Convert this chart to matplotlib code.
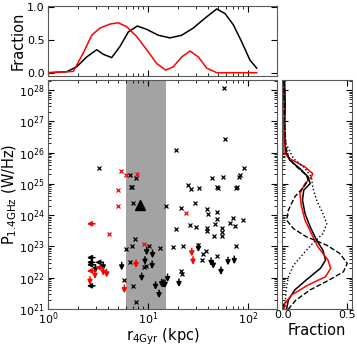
import numpy as np
import matplotlib
matplotlib.use('Agg')
import matplotlib.pyplot as plt

# --- data ---
# detections (x markers)
black_r = [3.26, 6.61, 7.53, 6.76, 6.9, 7.13, 15.0, 18.9, 57.5, 58.5, 91.8, 80.4, 83.2, 55.6, 43.7,
           24.9, 27.1, 32.5, 50.1, 49.5, 77.3, 76.0, 29.5, 21.4, 38.6, 49.3, 39.4, 48.6, 71.3, 89.7,
           66.8, 74.6, 46.8, 26.3, 30.3, 19.2, 38.6, 39.2, 54.6, 54.6, 45.7, 54.6, 22.2, 31.9, 38.0,
           35.1, 35.0, 49.5, 75.9, 21.5, 21.9, 7.41, 6.87, 5.98, 10.3, 13.2, 17.9, 6.61, 9.55, 9.18,
           5.8, 7.13, 7.53]
black_p = [3.3e25, 1.9e25, 1.5e25, 8.1e24, 8.0e24, 2.4e24, 2.0e24, 1.2e26, 1.2e28, 2.8e26, 3.3e25, 1.7e25,
           1.9e25, 1.7e25, 1.6e25, 9.1e24, 6.8e24, 7.2e24, 7.4e24, 7.8e24, 8.2e24, 7.6e24, 2.5e24, 1.7e24,
           1.55e24, 1.26e24, 1.07e24, 7.6e23, 8.3e23, 6.9e23, 5.8e23, 4.4e23, 5.3e23, 5.0e23, 4.1e23, 3.5e23,
           3.8e23, 3.2e23, 4.0e23, 2.9e23, 2.2e23, 2.1e23, 1.0e23, 1.1e23, 7.3e22, 5.7e22, 3.7e22, 5.0e22,
           1.05e23, 1.6e22, 1.35e22, 1.7e23, 1.0e23, 8.3e22, 1.0e23, 9.1e22, 9.8e22, 3.2e22, 2.4e22, 2.15e22,
           8.5e21, 5.4e21, 1.7e21]
red_r = [5.31, 6.0, 7.85, 4.98, 5.01, 4.07, 9.12, 23.9]
red_p = [2.5e25, 1.95e25, 2.0e25, 6.2e24, 1.95e24, 2.45e23, 1.2e23, 1.2e24]

# upper limits in power (down arrows)
blk_ul_r = [5.46, 8.65, 9.7, 11.1, 9.33, 11.0, 11.9, 12.9, 13.7, 14.2, 14.8, 15.7, 20.4, 31.9, 42.7,
            45.0, 53.7, 63.1, 72.9, 25.3, 3.57, 2.99]
blk_ul_p = [3.1e22, 1.4e22, 9.4e22, 7.6e22, 4.7e22, 3.4e22, 7.4e21, 4.0e21, 8.9e21, 8.5e21, 8.5e21, 1.3e22,
            9.1e21, 1.2e23, 4.3e22, 3.5e22, 2.2e22, 4.5e22, 4.9e22, 1.6e21, 3.1e22, 2.6e22]
red_ul_r = [7.59, 5.8, 27.4, 28.2, 2.95, 2.63, 3.57, 3.86]
red_ul_p = [3.7e22, 5.8e21, 8.7e22, 4.7e22, 1.66e22, 1.07e22, 2.1e22, 1.85e22]

# upper limits in size (left arrows)
blk_left_r = [2.95, 2.95, 2.95, 2.95, 3.57]
blk_left_p = [4.4e22, 3.1e22, 2.6e22, 5.5e21, 3.1e22]
red_left_r = [2.95, 2.95, 3.57]
red_left_p = [5.3e23, 1.66e22, 2.1e22]

tri_r = [8.32]
tri_p = [2.1e24]

# distributions (top: vs log r, right: vs log P)
top_blk_logr = [0.01, 0.187, 0.287, 0.387, 0.487, 0.553, 0.637, 0.72, 0.803, 0.893, 0.987, 1.103,
                1.22, 1.337, 1.453, 1.57, 1.687, 1.77, 1.853, 1.937, 2.02, 2.087]
top_blk_frac = [0.0, 0.015, 0.09, 0.24, 0.35, 0.28, 0.23, 0.40, 0.62, 0.71, 0.66, 0.57,
                0.53, 0.57, 0.68, 0.83, 0.97, 0.90, 0.73, 0.47, 0.19, 0.07]
top_red_logr = [0.01, 0.253, 0.353, 0.437, 0.52, 0.62, 0.703, 0.787, 0.887, 0.987, 1.087, 1.177,
                1.253, 1.337, 1.42, 1.503, 1.587, 1.687, 2.087]
top_red_frac = [0.0, 0.02, 0.30, 0.57, 0.68, 0.74, 0.76, 0.70, 0.55, 0.35, 0.14, 0.04,
                0.09, 0.24, 0.33, 0.24, 0.07, 0.0, 0.0]

side_blk_logp = [28.3, 27.5, 26.8, 26.3, 26.02, 25.76, 25.49, 25.22, 25.01, 24.80, 24.48, 24.05,
                 23.63, 23.20, 22.88, 22.56, 22.30, 21.93, 21.61, 21.29, 21.0]
side_blk_frac = [0.01, 0.015, 0.01, 0.012, 0.02, 0.05, 0.13, 0.195, 0.21, 0.16, 0.15, 0.17,
                 0.21, 0.26, 0.31, 0.33, 0.29, 0.18, 0.09, 0.04, 0.026]
side_red_logp = [28.3, 27.5, 26.5, 26.0, 25.81, 25.54, 25.33, 25.22, 25.01, 24.69, 24.32, 23.84,
                 23.41, 22.99, 22.56, 22.30, 22.03, 21.77, 21.45, 21.18, 21.0]
side_red_frac = [0.0, 0.005, 0.005, 0.005, 0.05, 0.17, 0.23, 0.22, 0.17, 0.13, 0.14, 0.17,
                 0.22, 0.27, 0.35, 0.37, 0.33, 0.195, 0.065, 0.013, 0.005]
side_dash_logp = [28.3, 27.0, 26.2, 25.86, 25.60, 25.28, 25.12, 24.90, 24.59, 24.16, 23.84, 23.57,
                  23.31, 23.04, 22.78, 22.46, 22.19, 21.93, 21.61, 21.29, 21.0]
side_dash_frac = [0.005, 0.01, 0.02, 0.04, 0.09, 0.18, 0.195, 0.16, 0.09, 0.04, 0.026, 0.08,
                  0.18, 0.34, 0.44, 0.50, 0.47, 0.36, 0.21, 0.10, 0.04]
side_dot_logp = [28.3, 27.0, 26.3, 25.81, 25.54, 25.22, 24.90, 24.48, 24.05, 23.73, 23.41, 23.10,
                 22.78, 22.40, 22.03, 21.71, 21.40, 21.0]
side_dot_frac = [0.01, 0.01, 0.02, 0.08, 0.16, 0.22, 0.23, 0.26, 0.31, 0.34, 0.31, 0.23,
                 0.16, 0.08, 0.04, 0.026, 0.018, 0.013]

band = (6.0, 15.0)


def draw_arrows(ax, rs, ps, color, down=True):
    # small arrows marking limits: down = upper limit in P, else upper limit in r
    for r, p in zip(rs, ps):
        end = (r, p * 0.55) if down else (r * 0.83, p)
        ax.annotate('', xy=end, xytext=(r, p),
                    arrowprops=dict(arrowstyle='-|>,head_length=0.55,head_width=0.28',
                                    color=color, lw=1.1, mutation_scale=5,
                                    shrinkA=0, shrinkB=0))


# --- figure ---
plt.rcParams['font.family'] = ['DejaVu Sans']
plt.rcParams['font.size'] = 8
fig = plt.figure(figsize=(3.57, 3.46), dpi=100)

ax = fig.add_axes([48/357, 37/346, 229/357, 229/346])
ax_top = fig.add_axes([48/357, 270/346, 229/357, 70/346], sharex=ax)
ax_side = fig.add_axes([282/357, 37/346, 70/357, 229/346], sharey=ax)

spine_col = '0.35'
for a in (ax, ax_top, ax_side):
    for s in a.spines.values():
        s.set_color(spine_col)
    a.tick_params(which='both', direction='in', top=True, right=True, labelsize=8)
    a.tick_params(which='major', length=4)
    a.tick_params(which='minor', length=2)
    a.tick_params(axis='x', pad=0.8)
    a.tick_params(axis='y', pad=2.5)

ax.set_xscale('log')
ax.set_yscale('log')
ax.set_xlim(1, 195)
ax.set_ylim(1e21, 2.1e28)

ax.axvspan(band[0], band[1], color='#a3a3a3', lw=0, zorder=0)

ax.plot(black_r, black_p, 'x', color='k', ms=3.5, mew=0.9)
ax.plot(red_r, red_p, 'x', color='r', ms=3.5, mew=0.9)
ax.plot(tri_r, tri_p, '^', color='k', ms=7)

draw_arrows(ax, blk_ul_r, blk_ul_p, 'k')
draw_arrows(ax, red_ul_r, red_ul_p, 'r')
draw_arrows(ax, blk_left_r, blk_left_p, 'k', down=False)
draw_arrows(ax, red_left_r, red_left_p, 'r', down=False)

ax.set_xlabel(r'r$_{\rm 4Gyr}$ (kpc)', fontsize=10.5)
ax.xaxis.set_label_coords(0.5, -0.074)
ax.set_ylabel(r'P$_{\rm 1.4GHz}$ (W/Hz)', fontsize=10.5, labelpad=0)

# top distribution
ax_top.plot(10 ** np.array(top_blk_logr), top_blk_frac, color='k', lw=1.1)
ax_top.plot(10 ** np.array(top_red_logr), top_red_frac, color='r', lw=1.1)
ax_top.set_ylim(-0.05, 1.015)
ax_top.set_yticks([0.0, 0.5, 1.0])
ax_top.set_yticklabels(['0.0', '0.5', '1.0'])
ax_top.tick_params(labelbottom=False)
ax_top.set_ylabel('Fraction', fontsize=10.5, labelpad=1)

# side distribution
ax_side.plot(side_blk_frac, 10 ** np.array(side_blk_logp), color='k', lw=1.1)
ax_side.plot(side_red_frac, 10 ** np.array(side_red_logp), color='r', lw=1.1)
ax_side.plot(side_dash_frac, 10 ** np.array(side_dash_logp), color='k', lw=1.0, ls='--')
ax_side.plot(side_dot_frac, 10 ** np.array(side_dot_logp), color='k', lw=1.0, ls=':')
ax_side.set_xlim(-0.01, 0.537)
ax_side.set_xticks([0.0, 0.5])
ax_side.set_xticklabels(['0.0', '0.5'])
ax_side.tick_params(labelleft=False)
ax_side.set_xlabel('Fraction', fontsize=10.5)
ax_side.xaxis.set_label_coords(0.5, -0.062)

fig.savefig('out.png', dpi=100)
